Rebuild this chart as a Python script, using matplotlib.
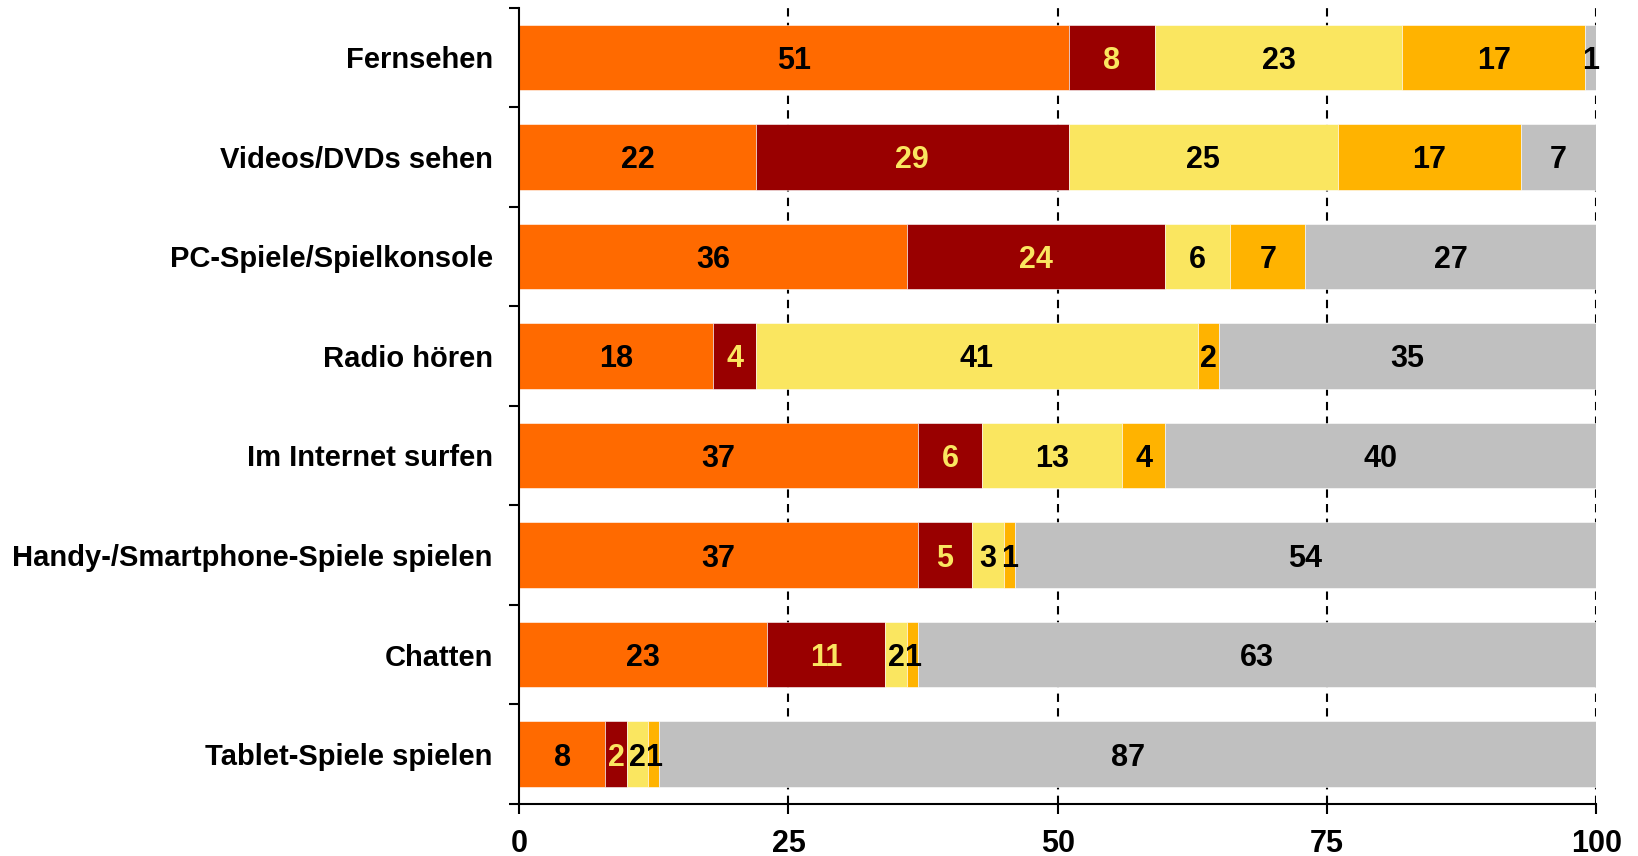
import matplotlib.pyplot as plt
import numpy as np

plt.rcParams['font.family'] = ['Liberation Sans', 'DejaVu Sans']
plt.rcParams['font.weight'] = 'bold'

categories = ['Fernsehen', 'Videos/DVDs sehen', 'PC-Spiele/Spielkonsole',
              'Radio hören', 'Im Internet surfen',
              'Handy-/Smartphone-Spiele spielen', 'Chatten',
              'Tablet-Spiele spielen']

s1 = [51, 22, 36, 18, 37, 37, 23, 8]
s2 = [8, 29, 24, 4, 6, 5, 11, 2]
s3 = [23, 25, 6, 41, 13, 3, 2, 2]
s4 = [17, 17, 7, 2, 4, 1, 1, 1]
s5 = [1, 7, 27, 35, 40, 54, 63, 87]

series = [s1, s2, s3, s4, s5]
colors = ['#FF6A00', '#990000', '#FAE660', '#FFB300', '#C0C0C0']
text_colors = ['black', '#FAE660', 'black', 'black', 'black']
xticks = [0, 25, 50, 75, 100]

fig = plt.figure(figsize=(16.38, 8.56), dpi=100)
ax = fig.add_axes([0.317, 0.061, 0.6575, 0.930])

y = np.arange(len(categories))
left = np.zeros(len(categories))
for vals, c, tc in zip(series, colors, text_colors):
    vals = np.array(vals, dtype=float)
    ax.barh(y, vals, left=left, height=0.66, color=c,
            edgecolor='white', linewidth=0.4, zorder=2)
    for yi, (l, v) in enumerate(zip(left, vals)):
        ax.text(l + v / 2, yi, f'{int(v)}', ha='center', va='center_baseline',
                fontsize=22, fontweight='bold', color=tc, zorder=3)
    left += vals

for xv in xticks[1:]:
    ax.axvline(xv, color='black', linestyle=(0, (4, 3)), linewidth=1.5,
               zorder=1)

ax.set_xlim(0, 100)
ax.set_ylim(len(categories) - 0.5, -0.5)
ax.set_xticks(xticks)
ax.set_xticklabels([str(t) for t in xticks], fontsize=22, fontweight='bold')
ax.set_yticks(y)
ax.set_yticklabels(categories, fontsize=21, fontweight='bold')
ax.tick_params(axis='y', which='major', length=0, pad=19)
ax.set_yticks(np.arange(-0.5, len(categories) + 0.5, 1), minor=True)
ax.tick_params(axis='y', which='minor', length=7, width=1.5,
               direction='out')
ax.tick_params(axis='x', length=7, width=1.5, direction='out', pad=11)

for s in ['top', 'right']:
    ax.spines[s].set_visible(False)
for s in ['left', 'bottom']:
    ax.spines[s].set_linewidth(1.5)

fig.savefig('out.png', dpi=100)
